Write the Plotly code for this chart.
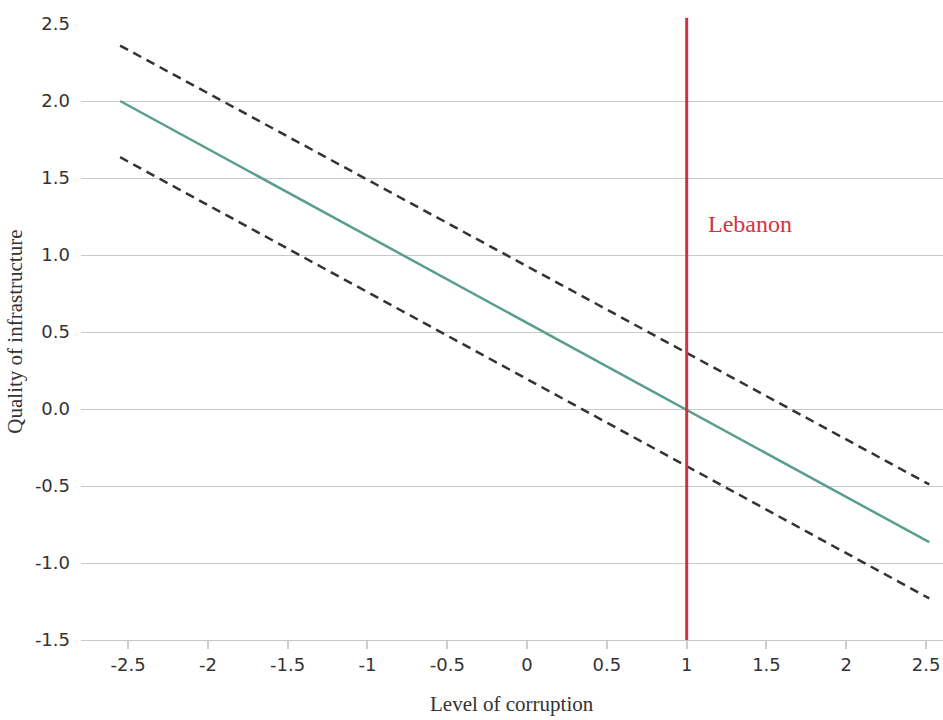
import plotly.graph_objects as go

# Data
x_ends = [-2.55, 2.52]
fit_y = [2.0, -0.865]
upper_y = [2.36, -0.49]
lower_y = [1.635, -1.23]
lebanon_x = 1.0
x_ticks = [-2.5, -2, -1.5, -1, -0.5, 0, 0.5, 1, 1.5, 2, 2.5]
x_tick_text = ["-2.5", "-2", "-1.5", "-1", "-0.5", "0", "0.5", "1", "1.5", "2", "2.5"]
y_ticks = [-1.5, -1.0, -0.5, 0.0, 0.5, 1.0, 1.5, 2.0, 2.5]
y_tick_text = ["-1.5", "-1.0", "-0.5", "0.0", "0.5", "1.0", "1.5", "2.0", "2.5"]

fig = go.Figure()
fig.add_trace(go.Scatter(x=x_ends, y=upper_y, mode="lines",
                         line=dict(color="#333333", width=2.5, dash="9px,6px"), showlegend=False))
fig.add_trace(go.Scatter(x=x_ends, y=lower_y, mode="lines",
                         line=dict(color="#333333", width=2.5, dash="9px,6px"), showlegend=False))
fig.add_trace(go.Scatter(x=x_ends, y=fit_y, mode="lines",
                         line=dict(color="#5a9e8f", width=2.5), showlegend=False))

fig.add_shape(type="line", xref="x", yref="paper", x0=lebanon_x, x1=lebanon_x, y0=0, y1=1.01,
              line=dict(color="#d4343f", width=3))
fig.add_annotation(x=lebanon_x + 0.12, y=1.2, xref="x", yref="y", text="Lebanon",
                   showarrow=False, xanchor="left", yanchor="middle",
                   font=dict(family="Liberation Serif", size=24, color="#d4343f"))

fig.add_annotation(x=0.5, y=-0.104, xref="paper", yref="paper", text="Level of corruption",
                   showarrow=False, xanchor="center", yanchor="middle",
                   font=dict(family="Liberation Serif", size=21, color="#333333"))
fig.add_annotation(x=-0.077, y=0.5, xref="paper", yref="paper", text="Quality of infrastructure",
                   showarrow=False, textangle=-90, xanchor="center", yanchor="middle",
                   font=dict(family="Liberation Serif", size=21, color="#333333"))

fig.update_layout(
    width=943, height=720,
    margin=dict(l=81, r=0, t=24, b=80),
    paper_bgcolor="white", plot_bgcolor="white",
    font=dict(family="DejaVu Sans", size=18, color="#333333"),
    xaxis=dict(range=[-2.795, 2.606], tickvals=x_ticks, ticktext=x_tick_text,
               showgrid=False, zeroline=False, showline=True, linecolor="#c8c8c8", linewidth=1.2,
               ticks="outside", ticklen=8, tickcolor="#cccccc", tickwidth=1.5,
               tickfont=dict(size=18, color="#333333")),
    yaxis=dict(range=[-1.5, 2.5], tickvals=y_ticks, ticktext=y_tick_text,
               showgrid=True, gridcolor="#c8c8c8", gridwidth=1.2, zeroline=False,
               showline=False, ticks="", ticklabelstandoff=10,
               tickfont=dict(size=18, color="#333333")),
)

fig.write_html("out.html")
